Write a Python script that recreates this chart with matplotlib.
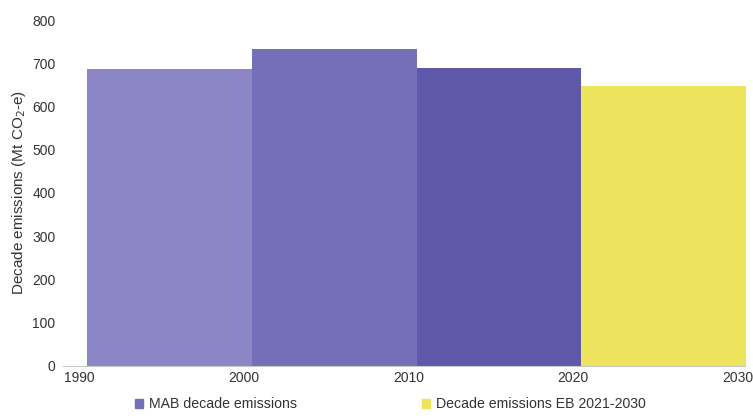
import matplotlib.pyplot as plt
from matplotlib.patches import Patch

plt.rcParams['font.family'] = ['Liberation Sans', 'DejaVu Sans']

# decade totals, Mt CO2-e
mab_starts = [1990, 2000, 2010]
mab_values = [687, 733, 689]
eb_starts = [2020]
eb_values = [647]

mab_colors = ['#8c86c6', '#746fb9', '#5f58a9']
eb_color = '#ede35c'

fig = plt.figure(figsize=(7.53, 4.19), dpi=100)
ax = fig.add_axes([0.105, 0.127, 0.875, 0.825])

ax.bar([s + 0.5 for s in mab_starts], mab_values, width=10, align='edge',
       color=mab_colors, linewidth=0, clip_on=False)
ax.bar([s + 0.5 for s in eb_starts], eb_values, width=10, align='edge',
       color=eb_color, linewidth=0, clip_on=False)

ax.set_xlim(1990, 2030)
ax.set_ylim(0, 800)
ax.set_xticks([1990, 2000, 2010, 2020, 2030])
ax.set_yticks(range(0, 801, 100))
ax.tick_params(axis='both', length=0, labelsize=10, colors='#333333')
ax.tick_params(axis='y', pad=17)
ax.tick_params(axis='x', pad=4)

for side in ['top', 'right', 'left']:
    ax.spines[side].set_visible(False)
ax.spines['bottom'].set_color('#c8c8c8')
ax.spines['bottom'].set_bounds(1989, 2030.4)
ax.spines['bottom'].set_clip_on(False)
ax.set_ylabel('Decade emissions (Mt CO$_2$-e)', fontsize=11, color='#333333',
              labelpad=3)

handles = [Patch(color=mab_colors[1], label='MAB decade emissions'),
           Patch(color=eb_color, label='Decade emissions EB 2021-2030')]
fig.legend(handles=handles, loc='lower center', bbox_to_anchor=(0.518, -0.012),
           ncol=2, frameon=False, fontsize=10.2, handlelength=0.6,
           handleheight=0.6, handletextpad=0.4, columnspacing=8.8,
           labelcolor='#333333')

plt.savefig('out.png', dpi=100)
